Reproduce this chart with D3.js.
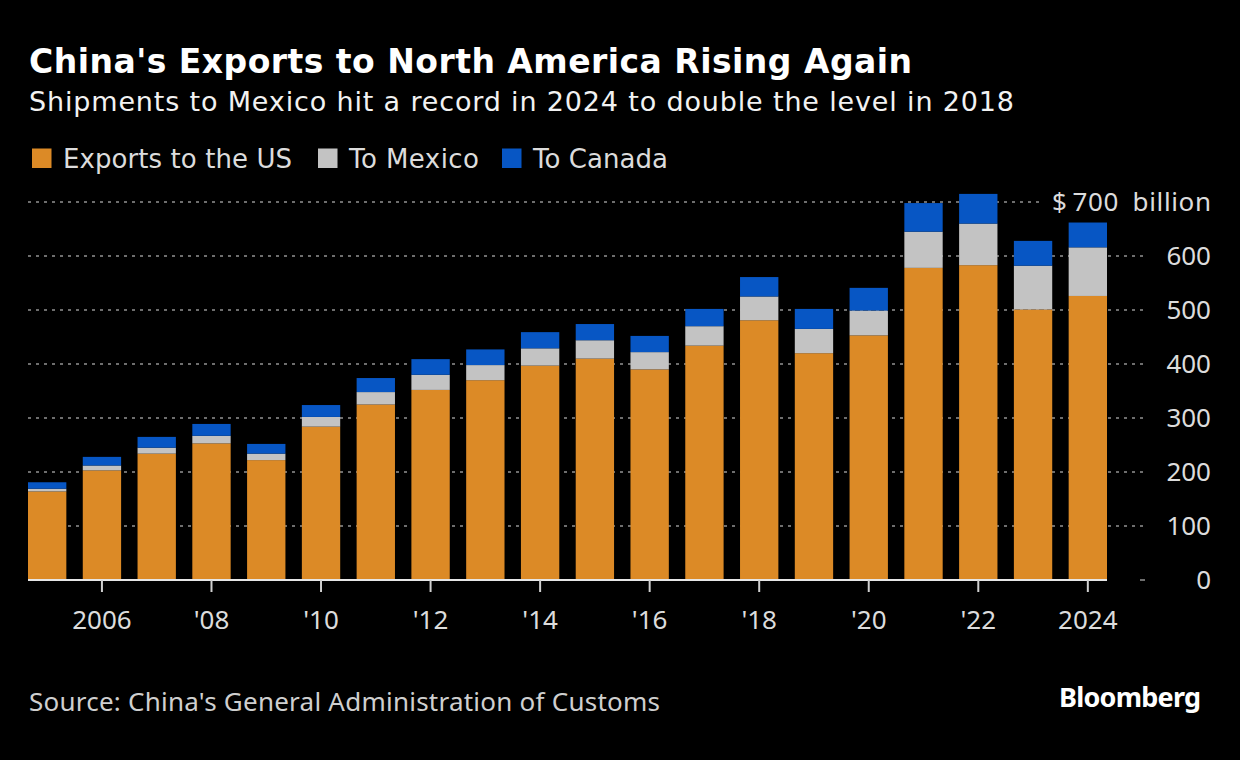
<!DOCTYPE html>
<html>
<head>
<meta charset="utf-8">
<script src="https://cdn.jsdelivr.net/npm/d3@7"></script>
<style>
  html, body { margin: 0; padding: 0; background: #000; }
  svg { display: block; }
</style>
</head>
<body>
<svg id="chart" width="1240" height="760"></svg>
<script>
/************** Data (US $ billions) **************/
const years = [2005, 2006, 2007, 2008, 2009, 2010, 2011, 2012, 2013, 2014,
               2015, 2016, 2017, 2018, 2019, 2020, 2021, 2022, 2023, 2024];
const toUS     = [164, 203, 234, 253, 222, 284, 325, 352, 370, 397,
                  410, 390, 434, 481, 420, 453, 578, 583, 501, 526];
const toMexico = [5, 9, 11, 14, 12, 18, 23, 28, 28, 32,
                  34, 32, 36, 44, 45, 46, 67, 77, 81, 90];
const toCanada = [12, 16, 20, 22, 18, 22, 26, 29, 29, 30,
                  30, 30, 32, 36, 37, 42, 53, 55, 46, 46];

const seriesKeys   = ["us", "mexico", "canada"];
const seriesLabels = ["Exports to the US", "To Mexico", "To Canada"];
const seriesColors = ["#dc8a26", "#c3c3c3", "#0756c4"];

const yTicks = [0, 100, 200, 300, 400, 500, 600, 700];
const xTickYears = [2006, 2008, 2010, 2012, 2014, 2016, 2018, 2020, 2022, 2024];
const xTickLabel = y => (y === 2006 || y === 2024) ? String(y) : "'" + String(y).slice(2);

/************** Layout **************/
const svg = d3.select("#chart");
const FONT = "'Noto Sans', sans-serif";
const DEJA = "'DejaVu Sans', sans-serif";
const plotLeft = 28, plotRight = 1107, gridRight = 1145, labelRight = 1211;
const baseY = 580, topY = 202;

const rows = years.map((yr, i) => ({ year: yr, us: toUS[i], mexico: toMexico[i], canada: toCanada[i] }));
const stacked = d3.stack().keys(seriesKeys)(rows);

const x = d3.scaleBand().domain(years).range([plotLeft, plotRight])
  .paddingInner(0.3).paddingOuter(0);
const y = d3.scaleLinear().domain([0, 700]).range([baseY, topY]);
const color = d3.scaleOrdinal().domain(seriesKeys).range(seriesColors);

/************** Header **************/
svg.append("text")
  .attr("x", 29).attr("y", 73)
  .attr("fill", "#fff")
  .attr("textLength", 883).attr("lengthAdjust", "spacing")
  .style("font-family", DEJA)
  .style("font-weight", 700).style("font-size", "33px")
  .text("China's Exports to North America Rising Again");

svg.append("text")
  .attr("x", 29).attr("y", 111)
  .attr("fill", "#f2f2f2")
  .attr("textLength", 985).attr("lengthAdjust", "spacing")
  .style("font-family", DEJA).style("font-size", "27px")
  .text("Shipments to Mexico hit a record in 2024 to double the level in 2018");

// legend
const legendX = [32, 318, 502];
const legendLen = [229, 130, 135];
const legend = svg.append("g").attr("class", "legend");
seriesKeys.forEach((k, i) => {
  legend.append("rect")
    .attr("x", legendX[i]).attr("y", 148.5).attr("width", 19.5).attr("height", 19.5)
    .attr("fill", color(k));
  legend.append("text")
    .attr("x", legendX[i] + 31).attr("y", 167.5)
    .attr("fill", "#dcdcdc")
    .attr("textLength", legendLen[i]).attr("lengthAdjust", "spacing")
    .style("font-family", DEJA).style("font-size", "26px")
    .text(seriesLabels[i]);
});

/************** Grid + right axis **************/
const grid = svg.append("g").attr("class", "grid");
grid.selectAll("line")
  .data(yTicks.filter(d => d > 0))
  .join("line")
    .attr("x1", plotLeft)
    .attr("x2", d => d === 700 ? 1042 : gridRight)
    .attr("y1", d => y(d)).attr("y2", d => y(d))
    .attr("stroke", "#6e6e6e").attr("stroke-width", 2)
    .attr("stroke-dasharray", "3,5");

// little dash at the zero line, right of the bars
grid.append("line")
  .attr("x1", 1140).attr("x2", gridRight)
  .attr("y1", y(0)).attr("y2", y(0))
  .attr("stroke", "#6e6e6e").attr("stroke-width", 2);

svg.append("g").attr("class", "y-labels")
  .selectAll("text")
  .data(yTicks)
  .join("text")
    .attr("x", labelRight).attr("y", d => y(d))
    .attr("dy", "0.35em")
    .attr("text-anchor", "end")
    .attr("fill", "#dcdcdc")
    .style("font-family", FONT).style("font-size", "26px")
    .each(function (d) {
      if (d === 700) {
        d3.select(this)
          .attr("textLength", 159).attr("lengthAdjust", "spacing")
          .text("$\u2009700\u2002billion");
      } else {
        d3.select(this).text(d);
      }
    });

/************** Bars **************/
svg.append("g").attr("class", "bars")
  .selectAll("g")
  .data(stacked)
  .join("g")
    .attr("fill", d => color(d.key))
  .selectAll("rect")
  .data(d => d)
  .join("rect")
    .attr("x", d => x(d.data.year))
    .attr("width", x.bandwidth())
    .attr("y", d => y(d[1]))
    .attr("height", d => y(d[0]) - y(d[1]));

/************** X axis **************/
svg.append("line")
  .attr("x1", plotLeft).attr("x2", plotRight)
  .attr("y1", baseY).attr("y2", baseY)
  .attr("stroke", "#e6e6e6").attr("stroke-width", 2);

const xAxis = svg.append("g").attr("class", "x-axis");
xAxis.selectAll("line")
  .data(xTickYears)
  .join("line")
    .attr("x1", d => x(d) + x.bandwidth() / 2).attr("x2", d => x(d) + x.bandwidth() / 2)
    .attr("y1", baseY).attr("y2", baseY + 12)
    .attr("stroke", "#d0d0d0").attr("stroke-width", 2);

xAxis.selectAll("text")
  .data(xTickYears)
  .join("text")
    .attr("x", d => x(d) + x.bandwidth() / 2).attr("y", 629)
    .attr("text-anchor", "middle")
    .attr("fill", "#dcdcdc")
    .style("font-family", FONT).style("font-size", "26px")
    .text(xTickLabel);

/************** Footer **************/
svg.append("text")
  .attr("x", 29).attr("y", 711)
  .attr("fill", "#cfcfcf")
  .attr("textLength", 631).attr("lengthAdjust", "spacing")
  .style("font-family", FONT).style("font-size", "26px")
  .text("Source: China's General Administration of Customs");

svg.append("text")
  .attr("x", 1059).attr("y", 707)
  .attr("fill", "#fff")
  .attr("textLength", 142).attr("lengthAdjust", "spacing")
  .style("font-family", FONT).style("font-weight", 700).style("font-size", "27px")
  .text("Bloomberg");
</script>
</body>
</html>
